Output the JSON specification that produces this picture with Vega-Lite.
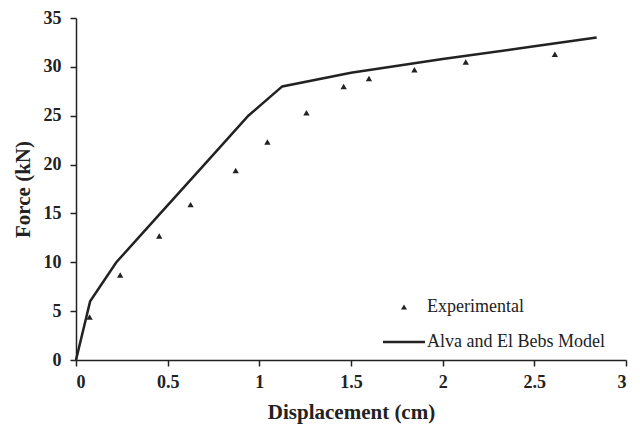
{
  "$schema": "https://vega.github.io/schema/vega-lite/v6.json",
  "width": 550,
  "height": 342,
  "autosize": "none",
  "padding": {"left": 76, "top": 18, "right": 14, "bottom": 68},
  "background": "white",
  "config": {
    "view": {"stroke": null},
    "font": "Liberation Serif",
    "axis": {
      "grid": false,
      "domainColor": "#222",
      "domainWidth": 1.5,
      "tickColor": "#222",
      "tickWidth": 1.5,
      "tickSize": 6,
      "labelFont": "Liberation Serif",
      "labelFontWeight": "bold",
      "labelFontSize": 18,
      "labelColor": "#222",
      "titleFont": "Liberation Serif",
      "titleFontWeight": "bold",
      "titleFontSize": 21,
      "titleColor": "#222"
    },
    "legend": {
      "labelFont": "Liberation Serif",
      "symbolSize": 1764
    }
  },
  "datasets": {
    "model": [
      {"d": 0, "f": 0, "series": "Alva and El Bebs Model"},
      {"d": 0.077, "f": 6, "series": "Alva and El Bebs Model"},
      {"d": 0.22, "f": 10, "series": "Alva and El Bebs Model"},
      {"d": 0.46, "f": 15, "series": "Alva and El Bebs Model"},
      {"d": 0.7, "f": 20, "series": "Alva and El Bebs Model"},
      {"d": 0.94, "f": 25, "series": "Alva and El Bebs Model"},
      {"d": 1.125, "f": 28, "series": "Alva and El Bebs Model"},
      {"d": 1.5, "f": 29.4, "series": "Alva and El Bebs Model"},
      {"d": 2.0, "f": 30.8, "series": "Alva and El Bebs Model"},
      {"d": 2.5, "f": 32.1, "series": "Alva and El Bebs Model"},
      {"d": 2.84, "f": 33, "series": "Alva and El Bebs Model"}
    ],
    "experimental": [
      {"d": 0.074, "f": 4.4, "series": "Experimental"},
      {"d": 0.241, "f": 8.7, "series": "Experimental"},
      {"d": 0.454, "f": 12.7, "series": "Experimental"},
      {"d": 0.625, "f": 15.9, "series": "Experimental"},
      {"d": 0.871, "f": 19.4, "series": "Experimental"},
      {"d": 1.044, "f": 22.3, "series": "Experimental"},
      {"d": 1.257, "f": 25.3, "series": "Experimental"},
      {"d": 1.46, "f": 28.0, "series": "Experimental"},
      {"d": 1.598, "f": 28.8, "series": "Experimental"},
      {"d": 1.846, "f": 29.7, "series": "Experimental"},
      {"d": 2.126, "f": 30.5, "series": "Experimental"},
      {"d": 2.612, "f": 31.3, "series": "Experimental"}
    ]
  },
  "encoding": {
    "x": {
      "field": "d",
      "type": "quantitative",
      "scale": {"domain": [0, 3], "nice": false},
      "axis": {"values": [0, 0.5, 1, 1.5, 2, 2.5, 3], "format": "~g", "title": "Displacement (cm)", "labelPadding": 7, "titlePadding": 10}
    },
    "y": {
      "field": "f",
      "type": "quantitative",
      "scale": {"domain": [0, 35], "nice": false},
      "axis": {"values": [0, 5, 10, 15, 20, 25, 30, 35], "title": "Force (kN)", "labelPadding": 9, "titlePadding": 10}
    },
    "color": {
      "field": "series",
      "type": "nominal",
      "scale": {"domain": ["Experimental", "Alva and El Bebs Model"], "range": ["#222", "#222"]},
      "legend": {
        "title": null,
        "orient": "none",
        "legendX": 319,
        "legendY": 280,
        "labelFontSize": 18,
        "labelColor": "#222",
        "labelLimit": 400,
        "rowPadding": 17,
        "symbolStrokeColor": "#222",
        "symbolStrokeWidth": 2.5,
        "labelOffset": 14,
        "encode": {
          "symbols": {
            "update": {
              "size": {"signal": "datum.value === 'Experimental' ? 36 : 1764"},
              "strokeWidth": {"signal": "datum.value === 'Experimental' ? 0 : 2.5"}
            }
          }
        }
      }
    }
  },
  "layer": [
    {
      "data": {"name": "model"},
      "mark": {"type": "line", "strokeWidth": 2.5}
    },
    {
      "data": {"name": "experimental"},
      "mark": {"type": "point", "filled": true, "opacity": 1, "size": 40},
      "encoding": {
        "shape": {
          "field": "series",
          "type": "nominal",
          "scale": {"domain": ["Experimental", "Alva and El Bebs Model"], "range": ["triangle-up", "stroke"]},
          "legend": {
            "title": null,
            "orient": "none",
            "legendX": 319,
            "legendY": 280
          }
        }
      }
    }
  ]
}
